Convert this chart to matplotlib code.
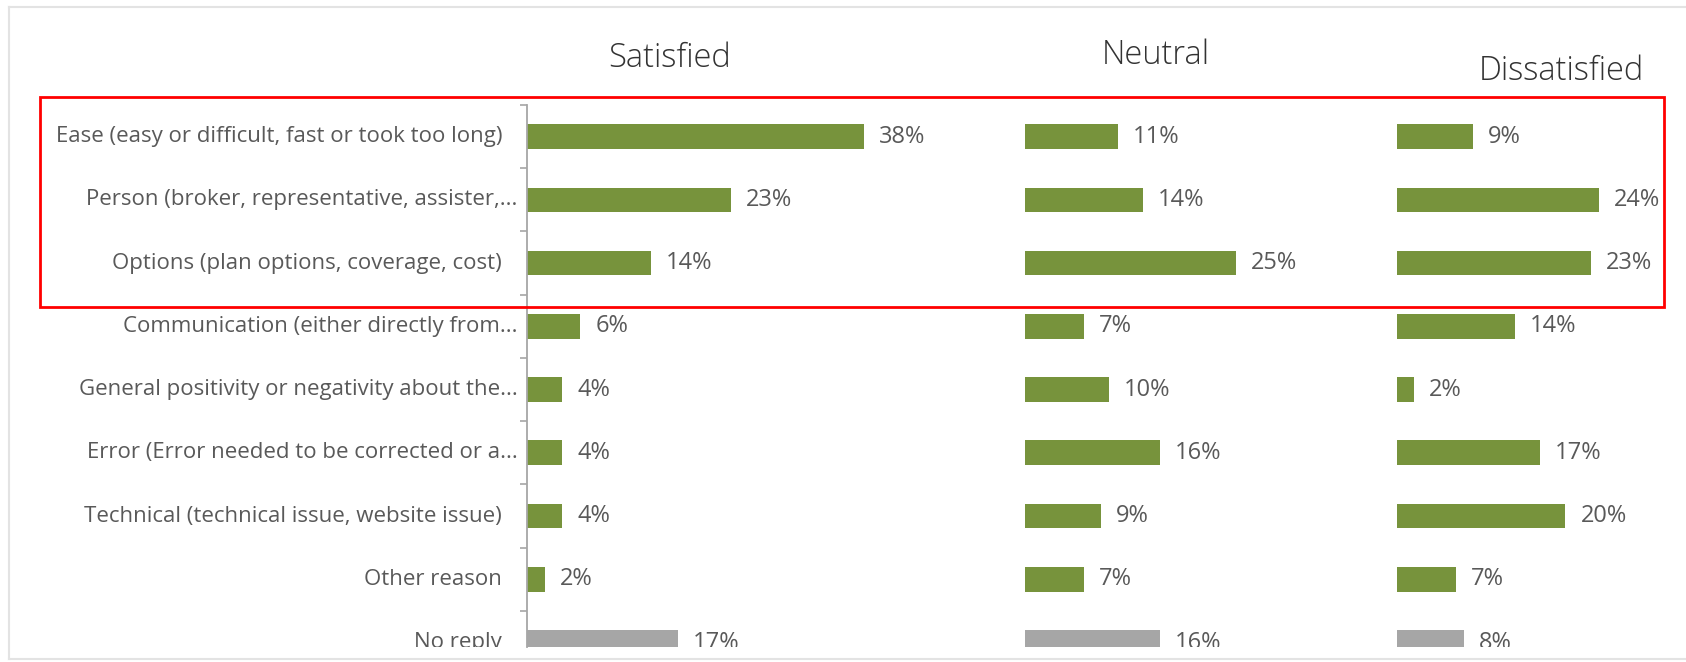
import matplotlib
matplotlib.use("Agg")
import matplotlib.pyplot as plt
from matplotlib.patches import Rectangle
from matplotlib.lines import Line2D
from matplotlib.transforms import ScaledTranslation

plt.rcParams['font.family'] = ['Open Sans', 'DejaVu Sans']

categories = [
    "Ease (easy or difficult, fast or took too long)",
    "Person (broker, representative, assister,...",
    "Options (plan options, coverage, cost)",
    "Communication (either directly from...",
    "General positivity or negativity about the...",
    "Error (Error needed to be corrected or a...",
    "Technical (technical issue, website issue)",
    "Other reason",
    "No reply",
]
panel_titles = ["Satisfied", "Neutral", "Dissatisfied"]
satisfied = [38, 23, 14, 6, 4, 4, 4, 2, 17]
neutral = [11, 14, 25, 7, 10, 16, 9, 7, 16]
dissatisfied = [9, 24, 23, 14, 2, 17, 20, 7, 8]

GREEN = "#77933C"
GREY = "#A6A6A6"
TXT = "#595959"

W, H = 1686, 662
fig = plt.figure(figsize=(W / 100, H / 100), dpi=100)
fig.patch.set_facecolor("white")

def fx(px):
    return px / W

def fy(py):
    return (H - py) / H

top_px, bot_px = 105, 647
row0, step = 136.5, 63.25
ybot = (bot_px - row0) / step

clip_rect = Rectangle((0, fy(bot_px)), 1, 1 - fy(bot_px), transform=fig.transFigure)

panels = [
    (satisfied, 527, 8.87, 40, panel_titles[0], 669.5, 67),
    (neutral, 1025, 8.42, 30, panel_titles[1], 1156, 63.5),
    (dissatisfied, 1397, 8.42, 30, panel_titles[2], 1561, 80),
]

colors = [GREEN] * (len(categories) - 1) + [GREY]
ypos = list(range(len(categories)))

def clipped(t):
    t.set_clip_path(clip_rect)
    t.set_clip_on(True)
    return t

for k, (vals, left, ppp, xmax, title, tx, ty) in enumerate(panels):
    width = ppp * xmax
    ax = fig.add_axes([fx(left), fy(bot_px), width / W, (bot_px - top_px) / H])
    ax.barh(ypos, vals, height=0.39, color=colors, zorder=2)
    ax.set_xlim(0, xmax)
    ax.set_ylim(ybot, -0.5)
    ax.set_facecolor("none")
    for s in ["top", "right", "bottom"]:
        ax.spines[s].set_visible(False)
    ax.set_xticks([])
    if k == 0:
        ax.spines["left"].set_color("#A6A6A6")
        ax.spines["left"].set_linewidth(1.3)
        ax.set_yticks([i - 0.5 for i in range(len(categories))])
        ax.tick_params(axis="y", length=5, width=1.2, color="#A6A6A6",
                       labelleft=False)
        for i, lab in enumerate(categories):
            pad = 9.5 if lab.endswith("...") else 25
            tr = ax.transData + ScaledTranslation(-pad / 100, 0, fig.dpi_scale_trans)
            clipped(ax.text(0, i, lab, transform=tr, ha="right", va="center",
                            fontsize=16, color=TXT))
    else:
        ax.spines["left"].set_visible(False)
        ax.set_yticks([])
    for i, v in enumerate(vals):
        tr = ax.transData + ScaledTranslation(15 / 100, 0, fig.dpi_scale_trans)
        clipped(ax.text(v, i, f"{v}%", transform=tr, ha="left", va="center",
                        fontsize=17, color=TXT))
    fig.text(fx(tx), fy(ty), title, ha="center", va="baseline",
             fontsize=23.5, color="#333333", fontweight="light")

# red highlight box
fig.patches.append(Rectangle((fx(40), fy(307)), fx(1664) - fx(40), fy(97) - fy(307),
                             transform=fig.transFigure, fill=False,
                             edgecolor="#FF0000", linewidth=2.0, zorder=5))
# screenshot frame
fig.lines.append(Line2D([fx(9), 1], [fy(7), fy(7)], transform=fig.transFigure,
                        color="#E3E3E3", linewidth=1.5))
fig.lines.append(Line2D([fx(9), fx(9)], [fy(7), fy(659)], transform=fig.transFigure,
                        color="#E3E3E3", linewidth=1.5))
fig.lines.append(Line2D([fx(9), 1], [fy(659), fy(659)], transform=fig.transFigure,
                        color="#E3E3E3", linewidth=1.5))

fig.savefig("out.png", dpi=100, facecolor="white")
